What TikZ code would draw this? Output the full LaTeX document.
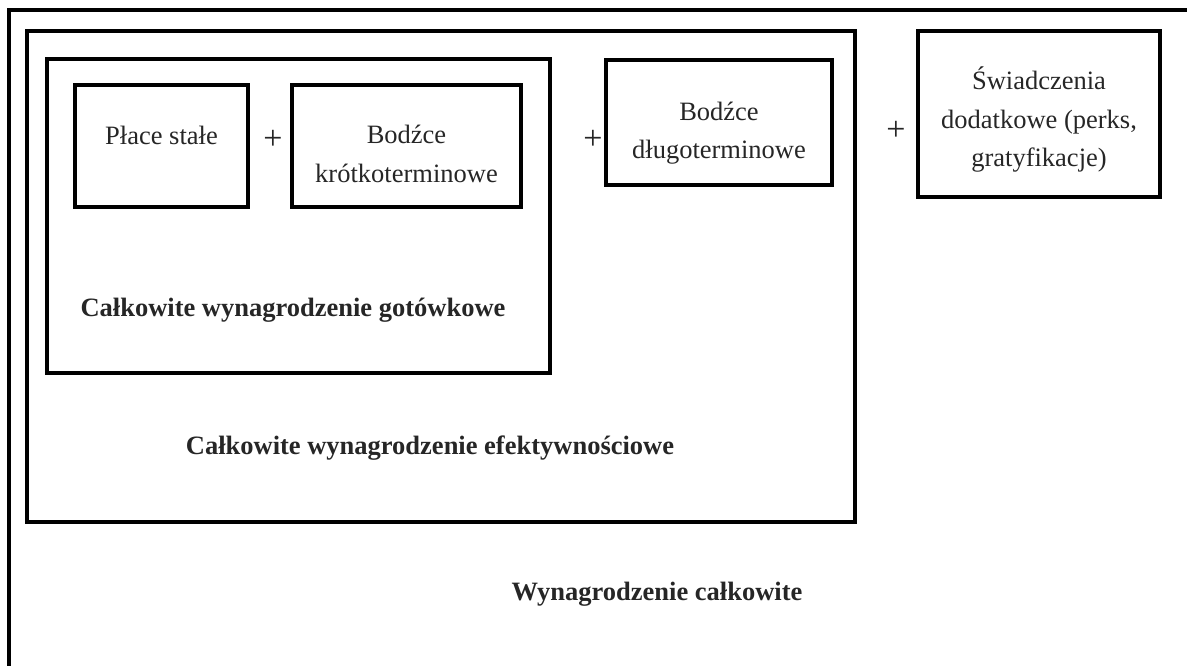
\documentclass[tikz,border=0pt]{standalone}
\usepackage{fontspec}
\setmainfont{Liberation Serif}
\begin{document}
\begin{tikzpicture}[x=1bp,y=-1bp,
  frame/.style={draw=black,line width=4bp,inner sep=0pt,outer sep=0pt},
  txt/.style={text=black!85,inner sep=0pt,outer sep=0pt,align=center,
    font=\fontsize{26.5bp}{38.5bp}\selectfont},
  boldtxt/.style={txt,font=\fontsize{26.5bp}{38.5bp}\selectfont\bfseries},
  plus/.style={txt,anchor=center,font=\fontsize{34bp}{38.5bp}\selectfont}]
\useasboundingbox (0,0) rectangle (1187,666);
\begin{scope}
\clip (0,0) rectangle (1187,666);
% total remuneration frame, running off the page on the right and at the bottom
\node[frame,anchor=north west,minimum width=1220bp,minimum height=700bp] (total) at (8.5,10) {};
\end{scope}

% nested frames
\node[frame,minimum width=828bp,minimum height=491bp] (eff) at (441,276.5) {};
\node[frame,minimum width=503bp,minimum height=314bp] (cash) at (298.5,216) {};
\node[frame,minimum width=173bp,minimum height=121.5bp] (fixed) at (161.5,145.75) {};
\node[frame,minimum width=229bp,minimum height=122bp] (short) at (406.5,146) {};
\node[frame,minimum width=226bp,minimum height=125bp] (long) at (719,122.5) {};
\node[frame,minimum width=242bp,minimum height=166bp] (perks) at (1039,114) {};

% box texts (base anchor sits on the last line)
\node[txt,anchor=base] (fixedtxt) at (161.5,145) {Płace stałe};
\node[txt,anchor=base] (shorttxt) at (406.5,182.5) {Bodźce\\krótkoterminowe};
\node[txt,anchor=base] (longtxt) at (719,159) {Bodźce\\długoterminowe};
\node[txt,anchor=base] (perkstxt) at (1039,167) {Świadczenia\\dodatkowe (perks,\\gratyfikacje)};

% plus signs between the components
\node[plus] (p1) at (273,140) {+};
\node[plus] (p2) at (593,140) {+};
\node[plus] (p3) at (896,131) {+};

% frame captions
\node[boldtxt,anchor=base] (cashlbl) at (293,316) {Całkowite wynagrodzenie gotówkowe};
\node[boldtxt,anchor=base] (efflbl) at (430,454) {Całkowite wynagrodzenie efektywnościowe};
\node[boldtxt,anchor=base] (totallbl) at (657,600) {Wynagrodzenie całkowite};
\end{tikzpicture}
\end{document}
